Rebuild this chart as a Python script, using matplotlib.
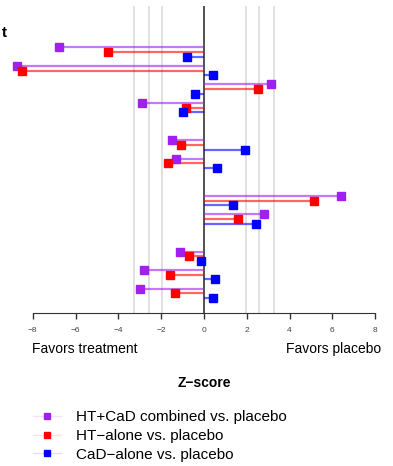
import matplotlib.pyplot as plt
from matplotlib.lines import Line2D
from matplotlib.colors import to_rgba

plt.rcParams['font.family'] = ['Liberation Sans', 'DejaVu Sans']

# rows per outcome group (each group has a header row above it)
group_sizes = [4, 2, 2, 3]
series_names = ['HT+CaD combined vs. placebo', 'HT\u2212alone vs. placebo', 'CaD\u2212alone vs. placebo']
combined = [-6.79, -8.72, 3.12, -2.90, -1.48, -1.29, 6.42, 2.82, -1.14, -2.82, -2.98]
ht_alone = [-4.47, -8.52, 2.52, -0.84, -1.09, -1.70, 5.16, 1.57, -0.70, -1.60, -1.37]
cad_alone = [-0.81, 0.44, -0.40, -0.98, 1.90, 0.61, 1.37, 2.45, -0.12, 0.51, 0.42]
ref_lines = [1.96, 2.58, 3.29]
xticks = [-8, -6, -4, -2, 0, 2, 4, 6, 8]

colors = ['#A020F0', '#FF0000', '#0000FF']
offsets = [-0.253, 0.0, 0.253]

# y position of every data row, skipping header rows
rows = []
pos = 0
for n in group_sizes:
    pos += 1
    for i in range(n):
        rows.append(pos)
        pos += 1

fig = plt.figure(figsize=(3.93, 4.66), dpi=100)
ax = fig.add_axes([0, 1 - 313 / 466, 1, 307 / 466])
ax.set_xlim(-204 / 21.4, (393 - 204) / 21.4)
ax.set_ylim(15.06, -1.48)

for v in ref_lines:
    ax.axvline(v, color='#dcdcdc', lw=1.2, zorder=0)
    ax.axvline(-v, color='#dcdcdc', lw=1.2, zorder=0)
ax.axvline(0, color='#333333', lw=1.2, zorder=1)

for vals, col, off in zip([combined, ht_alone, cad_alone], colors, offsets):
    ys = [r + off for r in rows]
    ax.hlines(ys, 0, vals, color=col, alpha=0.6, lw=1.6, zorder=2)
    ax.plot(vals, ys, 's', color=col, ms=5.8, mec=col, zorder=3, clip_on=False)

ax.text(-9.2, 0, 't', ha='right', va='center', fontsize=11, fontweight='bold')

for s in ['top', 'left', 'right']:
    ax.spines[s].set_visible(False)
ax.spines['bottom'].set_bounds(-8, 8)
ax.spines['bottom'].set_color('#333333')
ax.set_yticks([])
ax.set_xticks(xticks)
ax.set_xticklabels([str(t).replace('-', '\u2212') for t in xticks])
ax.tick_params(axis='x', length=4, width=1, color='#333333', labelsize=6,
               labelcolor='#444444', pad=6)

fig.text(32 / 393, 1 - 349 / 466, 'Favors treatment', ha='left', va='center', fontsize=10)
fig.text(381 / 393, 1 - 349 / 466, 'Favors placebo', ha='right', va='center', fontsize=10)
fig.text(204 / 393, 1 - 383 / 466, 'Z\u2212score', ha='center', va='center',
         fontsize=10, fontweight='bold')

handles = [Line2D([], [], color=to_rgba(c, 0.12), lw=1, marker='s', ms=5,
                  markerfacecolor=c, markeredgecolor=c) for c in colors]
fig.legend(handles, series_names, loc='upper left', bbox_to_anchor=(33 / 393, 1 - 410 / 466),
           frameon=False, fontsize=11, handlelength=1.8, handletextpad=1.0,
           labelspacing=0.32, borderpad=0, borderaxespad=0)

fig.savefig('out.png', dpi=100)
